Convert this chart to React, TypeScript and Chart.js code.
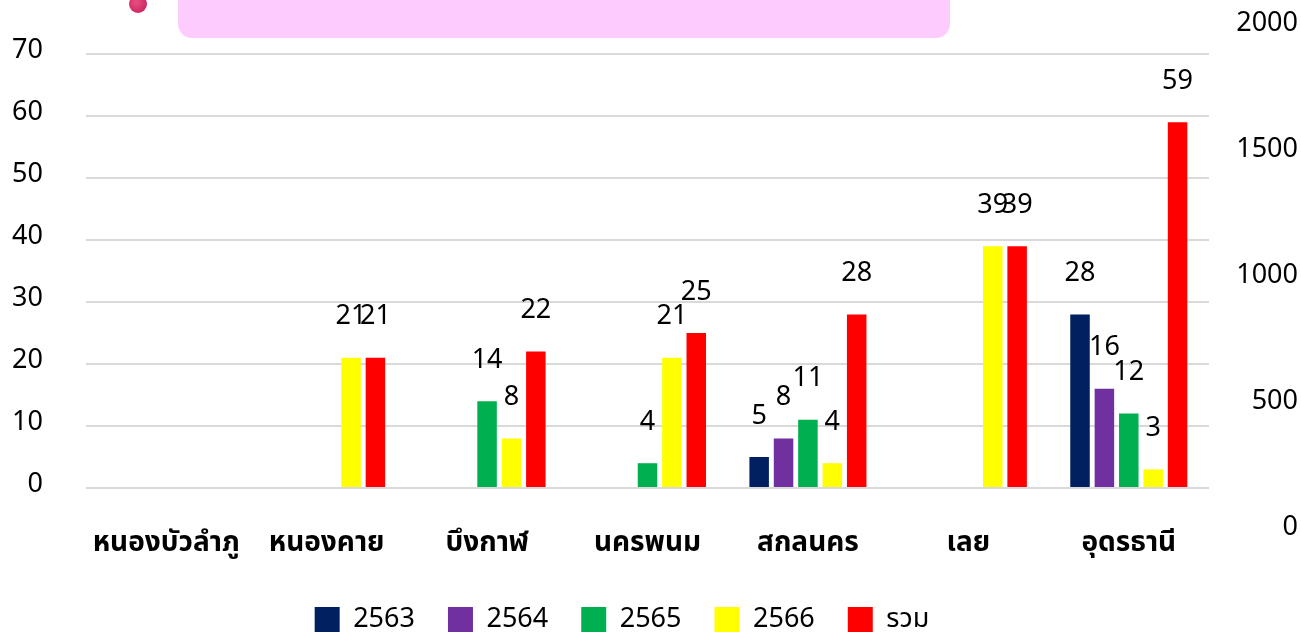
import React, { useEffect, useRef } from 'react';
import { Chart, registerables } from 'chart.js';

Chart.register(...registerables);

const categories = ['หนองบัวลำภู', 'หนองคาย', 'บึงกาฬ', 'นครพนม', 'สกลนคร', 'เลย', 'อุดรธานี'];
const seriesNames = ['2563', '2564', '2565', '2566', 'รวม'];
const values2563 = [null, null, null, null, 5, null, 28];
const values2564 = [null, null, null, null, 8, null, 16];
const values2565 = [null, null, 14, 4, 11, null, 12];
const values2566 = [null, 21, 8, 21, 4, 39, 3];
const valuesTotal = [null, 21, 22, 25, 28, 39, 59];
const seriesColors = ['#002060', '#7030A0', '#00B050', '#FFFF00', '#FF0000'];
const leftTicks = [0, 10, 20, 30, 40, 50, 60, 70];
const rightTicks = [0, 500, 1000, 1500, 2000];

const FONT = "'Noto Sans', 'Noto Sans Thai', sans-serif";
const FS = 27;

const valueLabels = {
  id: 'valueLabels',
  afterDatasetsDraw(chart: any) {
    const ctx = chart.ctx;
    ctx.save();
    ctx.font = `${FS}px ${FONT}`;
    ctx.fillStyle = '#000';
    ctx.textAlign = 'center';
    ctx.textBaseline = 'middle';
    chart.data.datasets.forEach((ds: any, i: number) => {
      const meta = chart.getDatasetMeta(i);
      meta.data.forEach((el: any, j: number) => {
        const v = ds.data[j];
        if (v === null || v === undefined) return;
        ctx.fillText(String(v), el.x, el.y - 41);
      });
    });
    ctx.restore();
  },
};

const legendShift = {
  id: 'legendShift',
  afterLayout(chart: any) {
    const l = chart.legend;
    if (!l) return;
    l.left -= 27;
    l.right -= 27;
    l.top += 7;
    l.bottom += 7;
  },
};

export default function App() {
  const canvasRef = useRef<HTMLCanvasElement | null>(null);

  useEffect(() => {
    document.body.style.margin = '0';
    const all = [values2563, values2564, values2565, values2566, valuesTotal];
    const chart = new Chart(canvasRef.current as HTMLCanvasElement, {
      type: 'bar',
      data: {
        labels: categories,
        datasets: all.map((d, i) => ({
          label: seriesNames[i],
          data: d as any,
          backgroundColor: seriesColors[i],
          borderWidth: 0,
          yAxisID: 'y',
          categoryPercentage: 0.76,
          barPercentage: 0.8,
        })),
      },
      options: {
        responsive: true,
        maintainAspectRatio: false,
        animation: false,
        layout: { padding: { top: 54, left: 0, right: 3, bottom: 0 } },
        plugins: {
          legend: {
            position: 'bottom',
            labels: {
              font: { size: FS, family: FONT },
              color: '#000',
              boxWidth: 25,
              boxHeight: 25,
              padding: 33,
            },
          },
          tooltip: { enabled: false },
          title: { display: false },
        },
        scales: {
          x: {
            grid: { display: false },
            border: { display: false },
            ticks: {
              font: { size: 28, family: FONT, weight: 'bold' },
              color: '#000',
              padding: 30,
              maxRotation: 0,
              autoSkip: false,
            },
            afterFit: (s: any) => {
              s.height = 78;
            },
          },
          y: {
            position: 'left',
            min: 0,
            max: 70,
            grid: { color: '#d9d9d9', lineWidth: 2, drawTicks: false },
            border: { display: false },
            ticks: {
              font: { size: FS, family: FONT },
              color: '#000',
              padding: 43,
              labelOffset: -4,
              autoSkip: false,
              callback: (v: any) => String(v),
            },
            afterBuildTicks: (s: any) => {
              s.ticks = leftTicks.map((v) => ({ value: v }));
            },
            afterFit: (s: any) => {
              s.width = 86;
              s.paddingTop = 0;
              s.paddingBottom = 0;
            },
          },
          y1: {
            position: 'right',
            min: 155,
            max: 1877,
            grid: { display: false, drawTicks: false },
            border: { display: false },
            ticks: {
              font: { size: FS, family: FONT },
              color: '#000',
              crossAlign: 'far',
              padding: 0,
              autoSkip: false,
              callback: (v: any) => String(v),
            },
            afterBuildTicks: (s: any) => {
              s.ticks = rightTicks.map((v) => ({ value: v }));
            },
            afterFit: (s: any) => {
              s.width = 89;
              s.paddingTop = 0;
              s.paddingBottom = 0;
            },
          },
        },
      } as any,
      plugins: [valueLabels, legendShift],
    });
    return () => chart.destroy();
  }, []);

  return (
    <div style={{ position: 'relative', width: 1301, height: 636, overflow: 'hidden', background: '#fff' }}>
      <canvas ref={canvasRef} />
      <div
        style={{
          position: 'absolute',
          left: 178,
          top: -30,
          width: 772,
          height: 68,
          background: '#FECBFE',
          borderRadius: 14,
        }}
      />
      <div
        style={{
          position: 'absolute',
          left: 129,
          top: -5,
          width: 18,
          height: 18,
          borderRadius: '50%',
          background: 'radial-gradient(circle at 40% 40%, #E8507F, #C2185B)',
        }}
      />
    </div>
  );
}
